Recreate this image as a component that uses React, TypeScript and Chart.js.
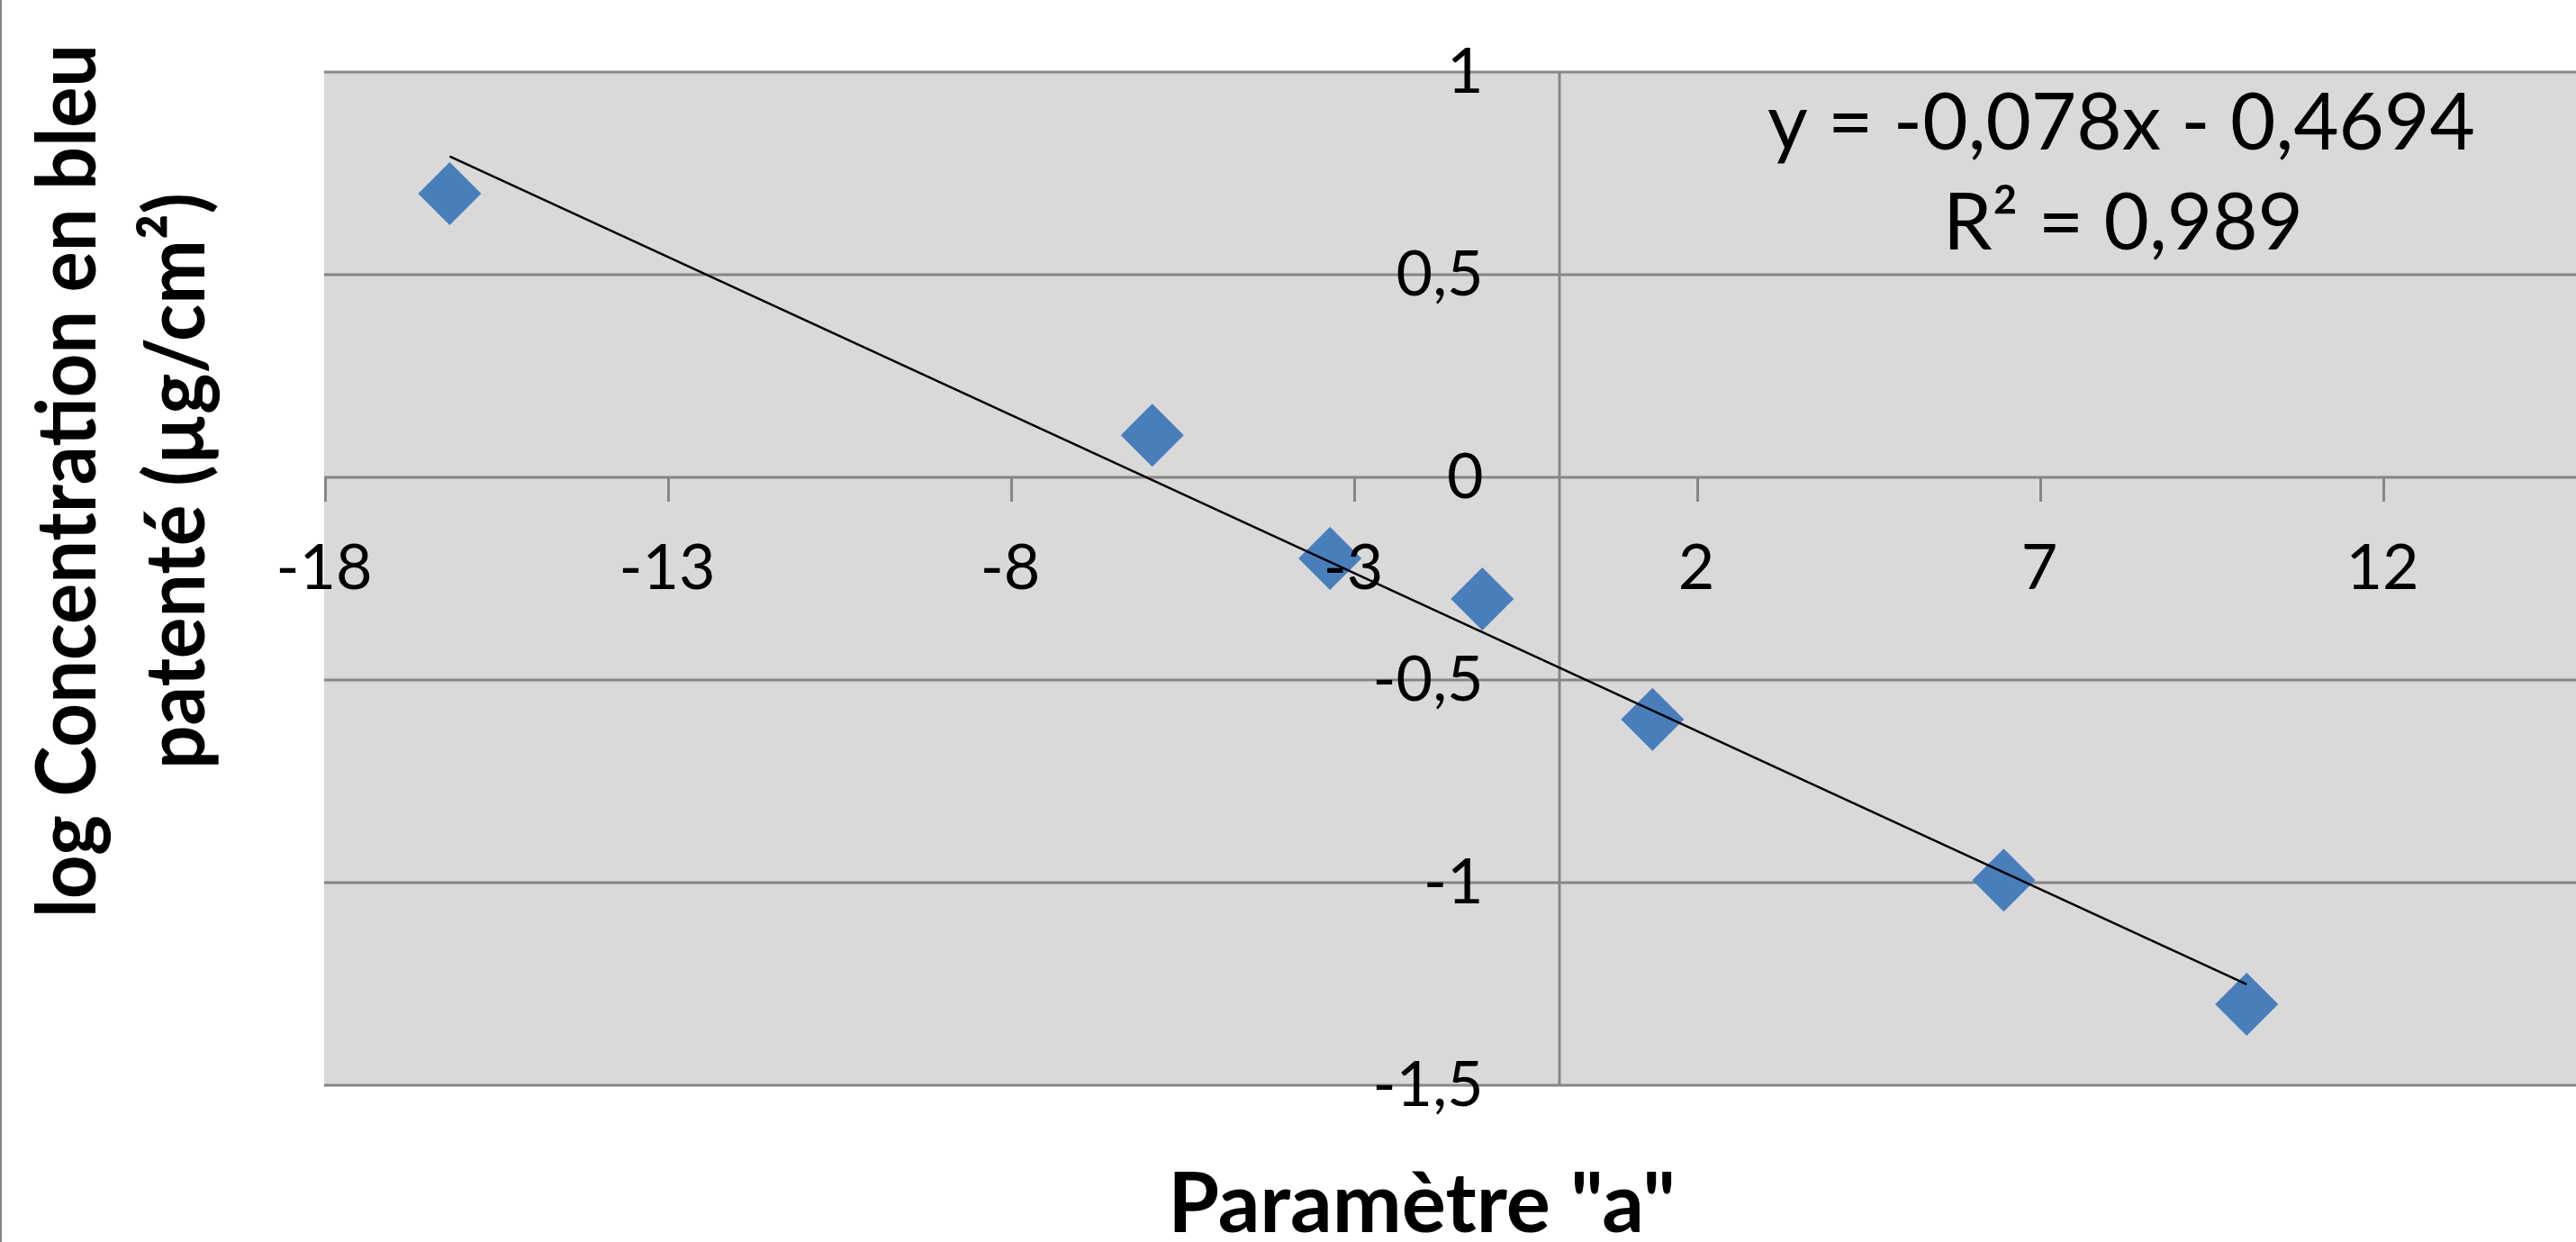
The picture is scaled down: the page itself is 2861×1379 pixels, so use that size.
import React, { useEffect, useRef } from 'react';
import { Chart, registerables } from 'chart.js';

Chart.register(...registerables);

// ---- data ----
const xValues = [-16.17, -5.93, -3.34, -1.12, 1.36, 6.48, 10.02];
const yValues = [0.7, 0.104, -0.2, -0.3, -0.597, -0.994, -1.3];
const xTicks = [-18, -13, -8, -3, 2, 7, 12];
const yTicks = [1, 0.5, 0, -0.5, -1, -1.5];
const trendSlope = -0.078;
const trendIntercept = -0.4694;
const equationLines = ['y = -0,078x - 0,4694', 'R² = 0,989'];
const xTitle = 'Paramètre "a"';
const yTitleLines = ['log Concentration en bleu', 'patenté (µg/cm²)'];
const X_MIN = -18;
const X_MAX = 14.82;
const Y_MIN = -1.5;
const Y_MAX = 1;

// ---- style ----
const W = 2861;
const H = 1379;
const FONT = 'Lato, "Open Sans", sans-serif';
const GRID = '#868686';
const MARKER = '#4A7EBB';

const fmt = (v: number) => String(v).replace('.', ',');

function drawText(
  ctx: CanvasRenderingContext2D,
  text: string,
  x: number,
  y: number,
  font: string,
  align: CanvasTextAlign,
  baseline: CanvasTextBaseline,
  sx = 1,
  rot = 0
) {
  ctx.save();
  ctx.translate(x, y);
  if (rot) ctx.rotate(rot);
  ctx.scale(sx, 1);
  ctx.font = font;
  ctx.fillStyle = '#000';
  ctx.textAlign = align;
  ctx.textBaseline = baseline;
  ctx.fillText(text, 0, 0);
  ctx.restore();
}

const decorPlugin = {
  id: 'excelDecor',
  beforeDatasetsDraw(chart: any) {
    const { ctx, chartArea: a, scales } = chart;
    const x = scales.x;
    const y = scales.y;
    ctx.save();
    ctx.fillStyle = '#d9d9d9';
    ctx.fillRect(a.left, a.top, a.right - a.left, a.bottom - a.top);
    ctx.strokeStyle = GRID;
    ctx.lineWidth = 3;
    ctx.beginPath();
    for (const v of yTicks) {
      const py = Math.round(y.getPixelForValue(v));
      ctx.moveTo(a.left, py);
      ctx.lineTo(a.right, py);
    }
    const px0 = Math.round(x.getPixelForValue(0));
    ctx.moveTo(px0, a.top);
    ctx.lineTo(px0, a.bottom);
    const py0 = Math.round(y.getPixelForValue(0));
    for (const v of xTicks) {
      const px = Math.round(x.getPixelForValue(v)) + 1.5;
      ctx.moveTo(px, py0);
      ctx.lineTo(px, py0 + 27);
    }
    ctx.stroke();
    ctx.restore();
  },
  afterDatasetsDraw(chart: any) {
    const { ctx, scales } = chart;
    const x = scales.x;
    const y = scales.y;
    const px0 = x.getPixelForValue(0);
    const py0 = y.getPixelForValue(0);
    const tickFont = `70px ${FONT}`;
    for (const v of yTicks) {
      drawText(ctx, fmt(v), px0 - 84, y.getPixelForValue(v), tickFont, 'right', 'middle');
    }
    for (const v of xTicks) {
      drawText(ctx, fmt(v), x.getPixelForValue(v), py0 + 101, tickFont, 'center', 'middle');
    }
  },
  afterDraw(chart: any) {
    const { ctx } = chart;
    const eqFont = `87px ${FONT}`;
    drawText(ctx, equationLines[0], 2356, 138, eqFont, 'center', 'middle');
    drawText(ctx, equationLines[1], 2358, 249, eqFont, 'center', 'middle');
    const titleFont = `bold 92px ${FONT}`;
    drawText(ctx, xTitle, 1579, 1368, titleFont, 'center', 'alphabetic');
    drawText(ctx, yTitleLines[0], 106, 534, titleFont, 'center', 'alphabetic', 0.92, -Math.PI / 2);
    drawText(ctx, yTitleLines[1], 227, 534, titleFont, 'center', 'alphabetic', 0.93, -Math.PI / 2);
    ctx.save();
    ctx.strokeStyle = GRID;
    ctx.lineWidth = 2;
    ctx.beginPath();
    ctx.moveTo(1, 0);
    ctx.lineTo(1, H);
    ctx.stroke();
    ctx.restore();
  },
};

export default function App() {
  const ref = useRef<HTMLCanvasElement>(null);
  useEffect(() => {
    document.body.style.margin = '0';
    document.documentElement.style.overflow = 'hidden';
    const canvas = ref.current;
    if (!canvas) return;
    const points = xValues.map((v, i) => ({ x: v, y: yValues[i] }));
    const xmin = Math.min(...xValues);
    const xmax = Math.max(...xValues);
    const trend = [
      { x: xmin, y: trendSlope * xmin + trendIntercept },
      { x: xmax, y: trendSlope * xmax + trendIntercept },
    ];
    const chart = new Chart(canvas, {
      type: 'scatter',
      data: {
        datasets: [
          {
            type: 'line',
            label: 'trend',
            data: trend,
            borderColor: '#000',
            borderWidth: 2.5,
            pointRadius: 0,
            fill: false,
          } as any,
          {
            label: 'data',
            data: points,
            pointStyle: 'rectRot',
            pointRadius: 35,
            backgroundColor: MARKER,
            borderColor: MARKER,
            borderWidth: 0,
          },
        ],
      },
      options: {
        responsive: false,
        animation: false,
        devicePixelRatio: 1,
        layout: { autoPadding: false, padding: { left: 360, top: 80, right: 0, bottom: H - 1205 } },
        plugins: { legend: { display: false }, tooltip: { enabled: false } },
        scales: {
          x: { type: 'linear', min: X_MIN, max: X_MAX, display: false },
          y: { type: 'linear', min: Y_MIN, max: Y_MAX, display: false },
        },
      },
      plugins: [decorPlugin],
    });
    return () => chart.destroy();
  }, []);
  return (
    <div style={{ width: W, height: H, background: '#fff' }}>
      <canvas ref={ref} width={W} height={H} style={{ display: 'block' }} />
    </div>
  );
}
